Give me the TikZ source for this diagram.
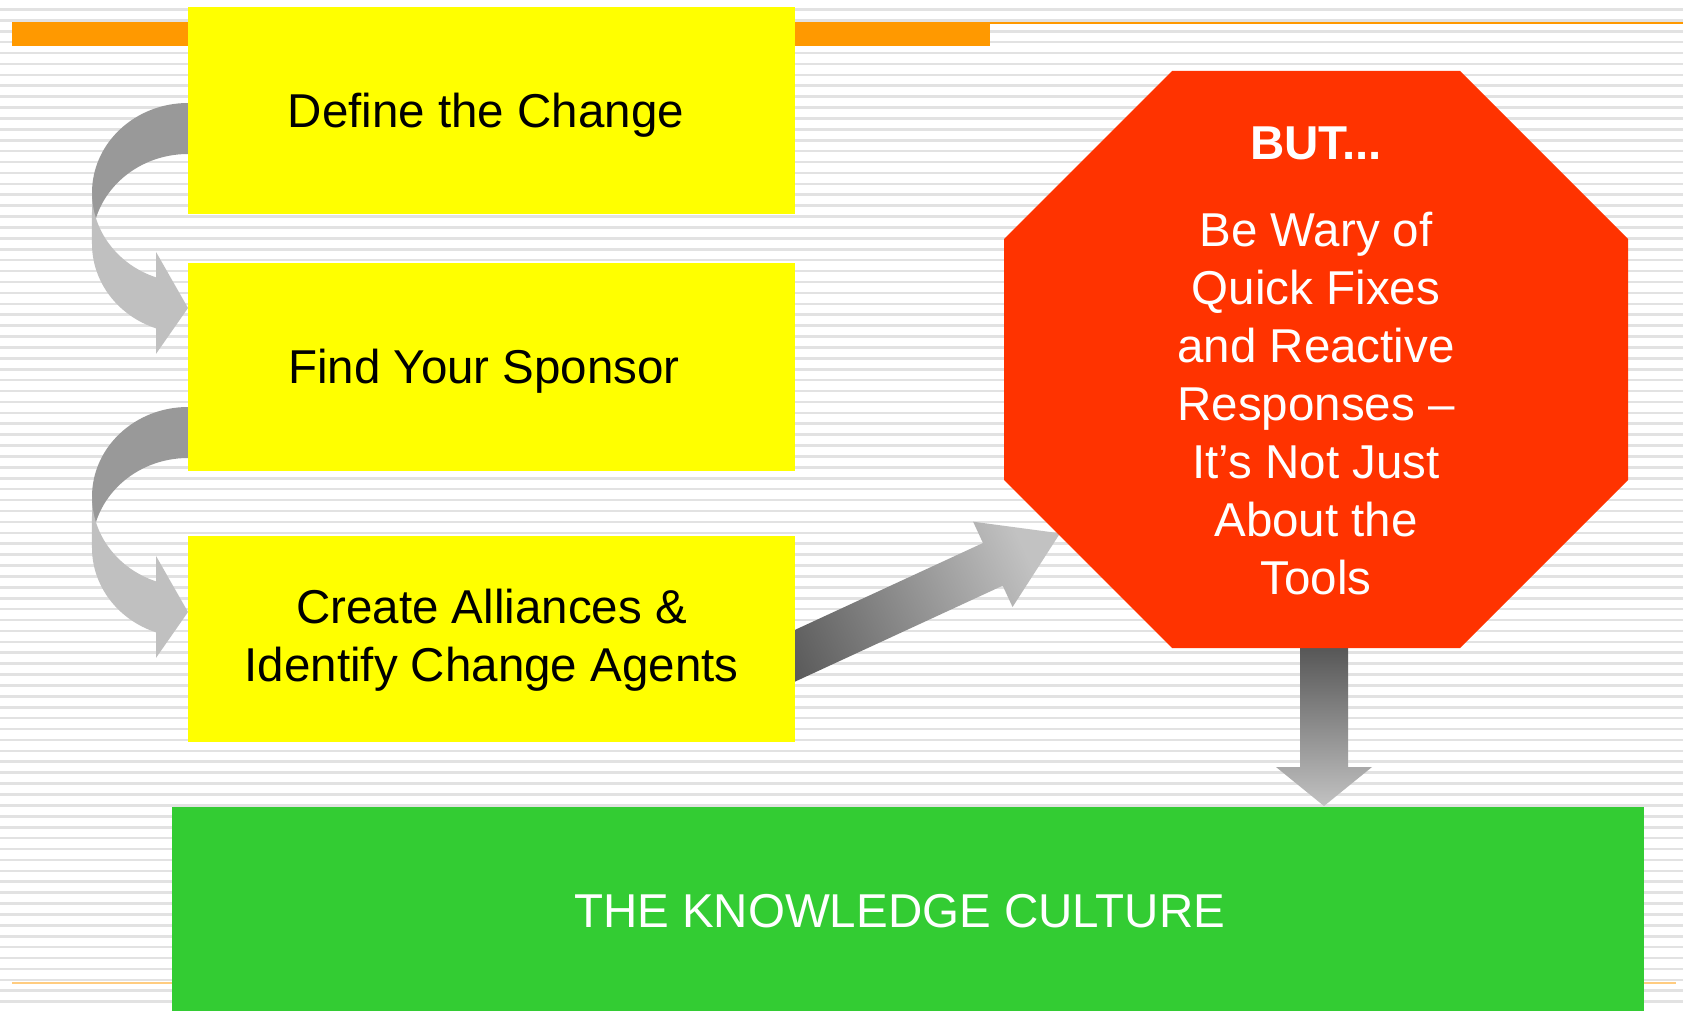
\documentclass[tikz,border=0pt]{standalone}
\usepackage{fontspec}
\setmainfont{Liberation Sans}
\usetikzlibrary{calc}
\definecolor{yel}{HTML}{FFFF00}
\definecolor{org}{HTML}{FF9900}
\definecolor{lightorg}{HTML}{FFCC80}
\definecolor{redoct}{HTML}{FF3300}
\definecolor{grn}{HTML}{33CC33}
\definecolor{stripegray}{HTML}{E2E2E2}
\definecolor{bandDark}{HTML}{999999}
\definecolor{bandLight}{HTML}{C0C0C0}
\definecolor{shadeDark}{HTML}{575757}
\definecolor{shadeLight}{HTML}{C2C2C2}
\newcommand\diafont{\fontsize{47.5}{58}\selectfont}
\tikzset{
  stripe/.style={draw=stripegray, line width=2.6pt},
  ybox/.style={fill=yel, draw=none, minimum width=607pt, inner sep=0pt},
  btxt/.style={font=\diafont, text=black, inner sep=0pt},
  wtxt/.style={font=\diafont, text=white, inner sep=0pt},
  darkband/.style={fill=bandDark},
  lightband/.style={fill=bandLight},
}
\begin{document}
\begin{tikzpicture}[x=1pt, y=-1pt]
\useasboundingbox (0,0) rectangle (1683,1011);
\fill[white] (0,0) rectangle (1683,1011);
% striped background
\foreach \k in {0,...,93} {
  \draw[stripe] (0,{-1.5+10.904*\k}) -- (1683,{-1.5+10.904*\k});
}
% decorative lines and bar
\fill[lightorg] (12,982) rectangle (1676,984);
\fill[org] (990,22) rectangle (1683,24);
\fill[org] (12,22) rectangle (990,46);

% curved arrows
\foreach \o in {0,304} {
  \begin{scope}[shift={(0,\o)}]
    \fill[darkband] (188,103) arc[start angle=270, end angle=180, x radius=96, y radius=89.75]
      -- (92,243.75) arc[start angle=180, end angle=270, x radius=96, y radius=89.75] -- cycle;
    \fill[lightband] (92,192.75) arc[start angle=180, end angle=109.47, x radius=96, y radius=89.75]
      -- (156,251.9) -- (188,308) -- (156,353.9) -- (156,328.35)
      arc[start angle=109.47, end angle=180, x radius=96, y radius=89.75] -- cycle;
  \end{scope}
}

% diagonal arrow
\shade[top color=shadeLight, bottom color=shadeDark, shading angle=-65.2]
  (746.93,652.08) -- (982.96,543.01) -- (973.10,521.67) -- (1060,533.3)
  -- (1012.54,607.01) -- (1002.68,585.67) -- (766.65,694.74) -- cycle;

% down arrow
\shade[top color=shadeDark, bottom color=shadeLight]
  (1300,648) -- (1348,648) -- (1348,767) -- (1372,767) -- (1324,806)
  -- (1276,767) -- (1300,767) -- cycle;

% yellow boxes
\node[ybox, minimum height=207pt] (def) at (491.5,110.5) {};
\node[ybox, minimum height=208pt] (spo) at (491.5,367) {};
\node[ybox, minimum height=206pt] (cre) at (491.5,638.5) {};

% octagon
\fill[redoct] (1172,71) -- (1460,71) -- (1628,239) -- (1628,480) -- (1460,648)
  -- (1172,648) -- (1004,480) -- (1004,239) -- cycle;

% green box
\node[fill=grn, minimum width=1472pt, minimum height=223pt, inner sep=0pt] (kc) at (908,918.5) {};

% texts
\node[btxt, anchor=base] (tdef) at (486,128) {Define the Change};
\node[btxt, anchor=base] (tspo) at (484,383.4) {Find Your Sponsor};
\node[btxt, anchor=base] (tcre1) at (491.6,623.9) {Create Alliances \&};
\node[btxt, anchor=base] (tcre2) at (491.6,681.8) {Identify Change Agents};

\node[wtxt, anchor=base, font=\diafont\bfseries] (but) at (1316,160) {BUT...};
\node[wtxt, anchor=base] (o0) at (1316,246.7) {Be Wary of};
\node[wtxt, anchor=base] (o1) at (1316,304.7) {Quick Fixes};
\node[wtxt, anchor=base] (o2) at (1316,362.6) {and Reactive};
\node[wtxt, anchor=base] (o3) at (1316,420.6) {Responses –};
\node[wtxt, anchor=base] (o4) at (1316,478.6) {It’s Not Just};
\node[wtxt, anchor=base] (o5) at (1316,536.6) {About the};
\node[wtxt, anchor=base] (o6) at (1316,594.5) {Tools};

\node[wtxt, anchor=base] (tkc) at (899.5,927.4) {THE KNOWLEDGE CULTURE};
\end{tikzpicture}
\end{document}
